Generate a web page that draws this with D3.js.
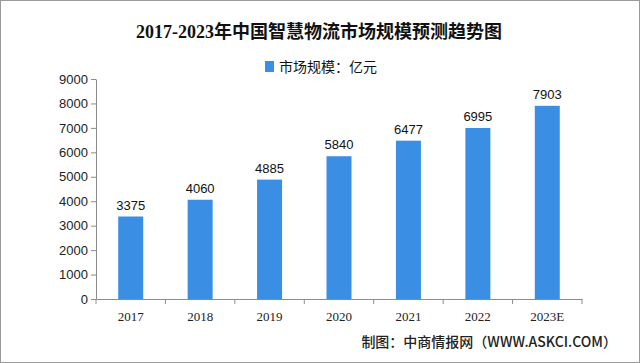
<!DOCTYPE html>
<html>
<head>
<meta charset="utf-8">
<script src="https://cdn.jsdelivr.net/npm/d3@7"></script>
<style>
  body { margin: 0; background: #fff; }
  svg { display: block; }
</style>
</head>
<body>
<div id="chart"></div>
<script>
var years  = ['2017', '2018', '2019', '2020', '2021', '2022', '2023E'];
var values = [3375, 4060, 4885, 5840, 6477, 6995, 7903];
var yTicks = [0, 1000, 2000, 3000, 4000, 5000, 6000, 7000, 8000, 9000];

var W = 640, H = 363;
var BAR_COLOR = '#3a8fe4';
var AXIS_COLOR = '#8c8c8c';

var svg = d3.select('#chart').append('svg')
  .attr('width', W).attr('height', H);

svg.append('rect')
  .attr('x', 0.5).attr('y', 0.5)
  .attr('width', W - 1).attr('height', H - 1)
  .attr('fill', '#fff').attr('stroke', '#9a9a9a');

var x = d3.scaleBand().domain(years).range([96, 582]).paddingInner(0.64).paddingOuter(0.32);
var y = d3.scaleLinear().domain([0, 9000]).range([299, 79]);

// title
svg.append('text')
  .attr('x', 319).attr('y', 38)
  .attr('text-anchor', 'middle')
  .attr('font-family', 'Liberation Serif, Noto Sans CJK SC')
  .attr('font-weight', 'bold')
  .attr('font-size', 18)
  .attr('fill', '#111')
  .text('2017-2023年中国智慧物流市场规模预测趋势图');

// legend
svg.append('rect')
  .attr('x', 265).attr('y', 61).attr('width', 9).attr('height', 11)
  .attr('fill', BAR_COLOR);
svg.append('text')
  .attr('x', 279).attr('y', 72)
  .attr('font-family', 'Noto Sans CJK SC')
  .attr('font-size', 14)
  .attr('fill', '#111')
  .text('市场规模：亿元');

// y axis
var yAxis = svg.append('g')
  .attr('transform', 'translate(96,0)')
  .call(d3.axisLeft(y).tickValues(yTicks).tickFormat(d3.format('d'))
    .tickSize(5).tickPadding(3).tickSizeOuter(0));
yAxis.selectAll('text')
  .attr('font-family', 'Liberation Sans, Arial, sans-serif')
  .attr('font-size', 13).attr('fill', '#222');

// x axis
var xAxis = svg.append('g')
  .attr('transform', 'translate(0,299)')
  .call(d3.axisBottom(x).tickSize(0).tickPadding(0));
xAxis.selectAll('text')
  .attr('dy', null)
  .attr('y', 22)
  .attr('font-family', 'Liberation Serif, serif')
  .attr('font-size', 13).attr('fill', '#222');
var edges = years.map(function(d) { return x(d) - x.step() * x.paddingInner() / 2; });
edges.push(582);
xAxis.selectAll('.edge').data(edges).enter().append('line')
  .attr('class', 'edge')
  .attr('x1', function(d) { return d; }).attr('x2', function(d) { return d; })
  .attr('y1', 0).attr('y2', 5)
  .attr('stroke', AXIS_COLOR);

svg.selectAll('.domain, .tick line').attr('stroke', AXIS_COLOR);

// bars
svg.append('g').selectAll('rect').data(values).enter().append('rect')
  .attr('x', function(d, i) { return x(years[i]); })
  .attr('y', function(d) { return y(d); })
  .attr('width', x.bandwidth())
  .attr('height', function(d) { return y(0) - y(d); })
  .attr('fill', BAR_COLOR);

svg.append('g').selectAll('text').data(values).enter().append('text')
  .attr('x', function(d, i) { return x(years[i]) + x.bandwidth() / 2; })
  .attr('y', function(d) { return y(d) - 7; })
  .attr('text-anchor', 'middle')
  .attr('font-family', 'Liberation Sans, Arial, sans-serif')
  .attr('font-size', 13)
  .attr('fill', '#111')
  .text(function(d) { return d; });

// source
svg.append('text')
  .attr('x', 617).attr('y', 347)
  .attr('text-anchor', 'end')
  .attr('font-family', 'Noto Sans CJK SC')
  .attr('font-size', 14)
  .attr('font-weight', 500)
  .attr('fill', '#222')
  .text('制图：中商情报网（WWW.ASKCI.COM）');
</script>
</body>
</html>
